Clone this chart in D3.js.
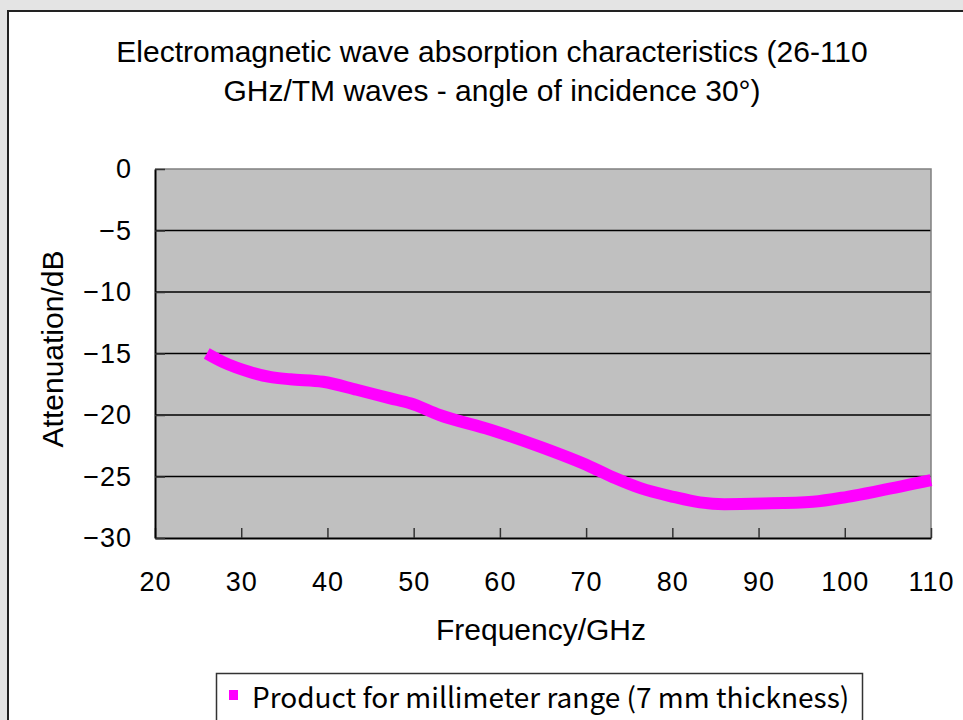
<!DOCTYPE html>
<html>
<head>
<meta charset="utf-8">
<script src="https://cdn.jsdelivr.net/npm/d3@7"></script>
<style>
  html, body { margin: 0; padding: 0; background: #e4e4e4; }
  svg { display: block; }
</style>
</head>
<body>
<script>
// chart values
var frequency = [26, 27.9, 31, 33.3, 35.7, 39.5, 43.4, 47.3, 49.6, 53, 58.9, 64.7, 70.5, 73.4, 76.3, 80.1, 83.2, 86, 90.5, 96.3, 100.3, 104.1, 110];
var attenuation = [-15, -15.7, -16.5, -16.9, -17.1, -17.3, -17.95, -18.65, -19.05, -20, -21.2, -22.6, -24.2, -25.15, -25.95, -26.65, -27.1, -27.25, -27.2, -27.05, -26.65, -26.15, -25.3];
var xTicks = [20, 30, 40, 50, 60, 70, 80, 90, 100, 110];
var yTicks = [0, -5, -10, -15, -20, -25, -30];
var titleLines = ["Electromagnetic wave absorption characteristics (26-110", "GHz/TM waves - angle of incidence 30°)"];
var seriesName = "Product for millimeter range (7 mm thickness)";

var outerWidth = 963,
    outerHeight = 720,
    plot = { left: 155, top: 169, right: 931, bottom: 538 };

var font = "'Liberation Sans', Arial, sans-serif";

var svg = d3.select("body")
            .append("svg")
            .attr("width", outerWidth)
            .attr("height", outerHeight);

// chart frame
svg.append("rect")
   .attr("x", 8).attr("y", 11)
   .attr("width", outerWidth + 10).attr("height", outerHeight)
   .attr("fill", "#fff")
   .attr("stroke", "#222")
   .attr("stroke-width", 2);

// title
svg.append("g")
   .selectAll("text")
   .data(titleLines)
   .enter()
   .append("text")
   .attr("x", 492)
   .attr("y", (d, i) => 62 + i * 39)
   .attr("text-anchor", "middle")
   .style("font-family", font)
   .style("font-size", "30px")
   .text(d => d);

var xScale = d3.scaleLinear().domain([20, 110]).range([plot.left, plot.right]);
var yScale = d3.scaleLinear().domain([-30, 0]).range([plot.bottom, plot.top]);

// plot area
svg.append("rect")
   .attr("x", plot.left).attr("y", plot.top)
   .attr("width", plot.right - plot.left)
   .attr("height", plot.bottom - plot.top)
   .attr("fill", "#c0c0c0");

// gridlines
svg.append("g")
   .selectAll("line")
   .data(yTicks.filter(d => d !== 0 && d !== -30))
   .enter()
   .append("line")
   .attr("x1", plot.left).attr("x2", plot.right)
   .attr("y1", d => yScale(d)).attr("y2", d => yScale(d))
   .attr("stroke", "#000")
   .attr("stroke-width", 1.3);

// top and right borders
svg.append("path")
   .attr("d", "M" + plot.left + "," + plot.top + "H" + plot.right + "V" + plot.bottom)
   .attr("fill", "none")
   .attr("stroke", "#808080")
   .attr("stroke-width", 1.5);

// x axis, ticks point inward
var xAxis = d3.axisBottom(xScale)
              .tickValues(xTicks)
              .tickSizeInner(-10)
              .tickSizeOuter(0)
              .tickPadding(34)
              .tickFormat(d3.format("d"));

var gx = svg.append("g")
   .attr("transform", "translate(0," + plot.bottom + ")")
   .call(xAxis);
gx.select(".domain").attr("stroke", "#000").attr("stroke-width", 2);
gx.selectAll(".tick line").attr("stroke", "#333").attr("stroke-width", 1.5);
gx.selectAll(".tick text")
  .style("font-family", font)
  .style("font-size", "27px")
  .style("letter-spacing", "1px")
  .attr("fill", "#000");

// y axis
var yAxis = d3.axisLeft(yScale)
              .tickValues(yTicks)
              .tickSizeInner(-10)
              .tickSizeOuter(0)
              .tickPadding(23)
              .tickFormat(d3.format("d"));

var gy = svg.append("g")
   .attr("transform", "translate(" + plot.left + ",0)")
   .call(yAxis);
gy.select(".domain").attr("stroke", "#000").attr("stroke-width", 2);
gy.selectAll(".tick line").attr("stroke", "#333").attr("stroke-width", 1.5);
gy.selectAll(".tick text")
  .style("font-family", font)
  .style("font-size", "27px")
  .style("letter-spacing", "1px")
  .attr("fill", "#000");

// axis titles
svg.append("text")
   .attr("x", 541)
   .attr("y", 640)
   .attr("text-anchor", "middle")
   .style("font-family", font)
   .style("font-size", "30px")
   .text("Frequency/GHz");

svg.append("text")
   .attr("transform", "translate(63,349) rotate(-90)")
   .attr("text-anchor", "middle")
   .style("font-family", font)
   .style("font-size", "30px")
   .text("Attenuation/dB");

// the series
var line = d3.line()
             .x((d, i) => xScale(frequency[i]))
             .y(d => yScale(d))
             .curve(d3.curveMonotoneX);

svg.append("path")
   .datum(attenuation)
   .attr("d", line)
   .attr("fill", "none")
   .attr("stroke", "#ff00ff")
   .attr("stroke-width", 12)
   .attr("stroke-linejoin", "round");

// legend
var legend = svg.append("g");
legend.append("rect")
      .attr("x", 216.5).attr("y", 673.5)
      .attr("width", 646).attr("height", 60)
      .attr("fill", "#fff")
      .attr("stroke", "#333")
      .attr("stroke-width", 1.5);
legend.append("rect")
      .attr("x", 229).attr("y", 690)
      .attr("width", 9).attr("height", 10)
      .attr("fill", "#ff00ff");
legend.append("text")
      .attr("x", 252)
      .attr("y", 708)
      .style("font-family", "'Noto Sans CJK JP', sans-serif")
      .style("font-size", "28px")
      .text(seriesName);
</script>
</body>
</html>
